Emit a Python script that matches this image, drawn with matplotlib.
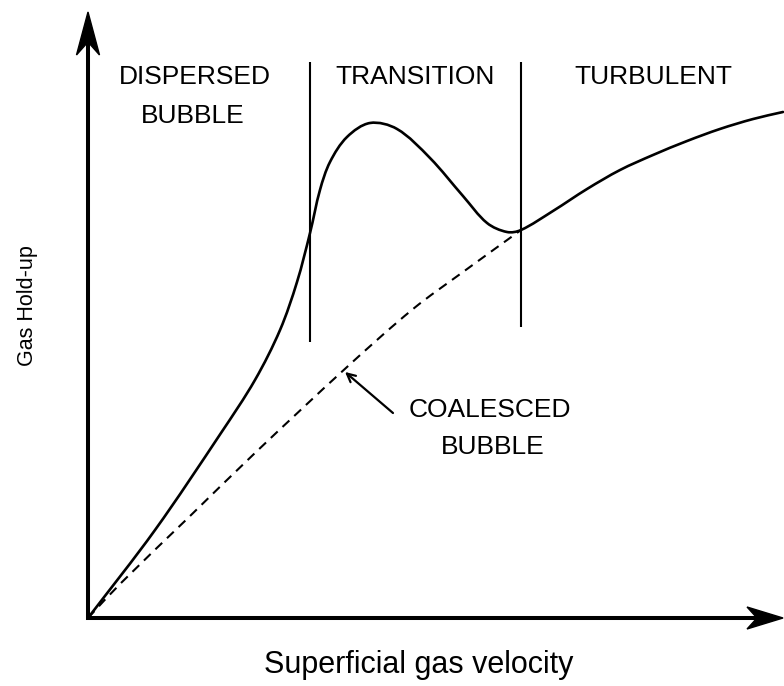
import matplotlib
matplotlib.use("Agg")
import matplotlib.pyplot as plt
import numpy as np
from matplotlib.patches import Polygon, PathPatch
from matplotlib.path import Path
from matplotlib.transforms import ScaledTranslation

plt.rcParams['font.family'] = ['Liberation Sans', 'DejaVu Sans']

# ---- data (arbitrary units, origin at 0,0) ----
solid_x = [0, 0.963, 1.911, 2.399, 2.759, 3.003, 3.190, 3.333, 3.477,
           3.721, 4.052, 4.440, 4.914, 5.388, 5.733, 6.020, 6.221, 6.681, 7.170,
           7.644, 8.118, 8.606, 9.080, 9.555, 9.986]
solid_y = [0, 1.424, 2.994, 3.851, 4.660, 5.437, 6.230, 6.926, 7.379,
           7.783, 8.010, 7.913, 7.443, 6.828, 6.392, 6.246, 6.278, 6.586, 6.942,
           7.249, 7.492, 7.718, 7.913, 8.074, 8.188]

dashed_x = [0, 0.474, 1.437, 2.399, 3.721, 4.670, 5.388, 6.221]
dashed_y = [0, 0.566, 1.618, 2.670, 4.061, 5.000, 5.599, 6.278]

boundary_x = [3.190, 6.221]
boundary_bottom = [4.466, 4.709]
boundary_top = [9.0, 9.0]

region_labels = ["DISPERSED", "TRANSITION", "TURBULENT"]
region_label_x = [1.537, 4.698, 8.118]
region_label_y = [8.641, 8.641, 8.641]

x_tip = 9.986
y_tip = 9.806

PX_X = 69.6   # pixels per x unit (for chord-length spacing)
PX_Y = 61.8   # pixels per y unit


def smooth_path(xs, ys):
    """Smooth curve through the given points (chord-length Hermite, as Bezier)."""
    p = np.column_stack([xs, ys]).astype(float)
    scale = np.array([PX_X, PX_Y])
    d = np.linalg.norm(np.diff(p * scale, axis=0), axis=1)
    t = np.concatenate([[0], np.cumsum(d)])
    n = len(p)
    m = np.zeros_like(p)
    for i in range(n):
        a = max(i - 1, 0)
        b = min(i + 1, n - 1)
        m[i] = (p[b] - p[a]) / (t[b] - t[a])
    verts = [p[0]]
    codes = [Path.MOVETO]
    for i in range(n - 1):
        h = t[i + 1] - t[i]
        verts += [p[i] + m[i] * h / 3, p[i + 1] - m[i + 1] * h / 3, p[i + 1]]
        codes += [Path.CURVE4] * 3
    return Path(verts, codes)


fig = plt.figure(figsize=(7.84, 6.86), dpi=100)
ax = fig.add_axes([88/784, 68/686, 696/784, 618/686])
ax.set_xlim(0, 10)
ax.set_ylim(0, 10)
ax.axis('off')

# axes with arrows
ax.plot([0, 0, x_tip - 27/PX_X], [y_tip - 28/PX_Y, 0, 0], color='black', lw=2.9,
        solid_joinstyle='miter', solid_capstyle='butt', clip_on=False, zorder=3)
tr_y = fig.dpi_scale_trans + ScaledTranslation(0, y_tip, ax.transData)
ax.add_patch(Polygon([(0, 0), (-0.115, -0.43), (0, -0.30), (0.115, -0.43)],
                     closed=True, transform=tr_y, color='black', clip_on=False, zorder=4))
tr_x = fig.dpi_scale_trans + ScaledTranslation(x_tip, 0, ax.transData)
ax.add_patch(Polygon([(0, 0), (-0.36, 0.11), (-0.26, 0), (-0.36, -0.11)],
                     closed=True, transform=tr_x, color='black', clip_on=False, zorder=4))

# curves
ax.add_patch(PathPatch(smooth_path(solid_x, solid_y), facecolor='none',
                       edgecolor='black', lw=1.9, clip_on=False, zorder=2,
                       capstyle='round', joinstyle='round'))
dpatch = PathPatch(smooth_path(dashed_x, dashed_y), facecolor='none',
                   edgecolor='black', lw=1.5, clip_on=False, zorder=2,
                   linestyle=(0, (4.5, 3.2)))
ax.add_patch(dpatch)

# regime boundaries
ax.vlines(boundary_x, boundary_bottom, boundary_top, color='black', lw=1.5)

# labels
for lab, x, y in zip(region_labels, region_label_x, region_label_y):
    ax.text(x, y, lab, ha='center', va='baseline', fontsize=19)
ax.text(1.509, 8.010, "BUBBLE", ha='center', va='baseline', fontsize=19)

ax.text(5.776, 3.252, "COALESCED", ha='center', va='baseline', fontsize=19)
ax.text(5.819, 2.654, "BUBBLE", ha='center', va='baseline', fontsize=19)
ax.annotate('', xy=(3.693, 3.981), xytext=(4.382, 3.317),
            arrowprops=dict(arrowstyle='->,head_length=0.6,head_width=0.3',
                            color='black', lw=1.6, shrinkA=0, shrinkB=0))

fig.text(419/784, 1 - 673/686, "Superficial gas velocity", ha='center',
         va='baseline', fontsize=22)
fig.text(28/784, 1 - 306/686, "Gas Hold-up", ha='center', va='center',
         rotation=90, fontsize=15.5)

fig.savefig("out.png", dpi=100, facecolor='white')
